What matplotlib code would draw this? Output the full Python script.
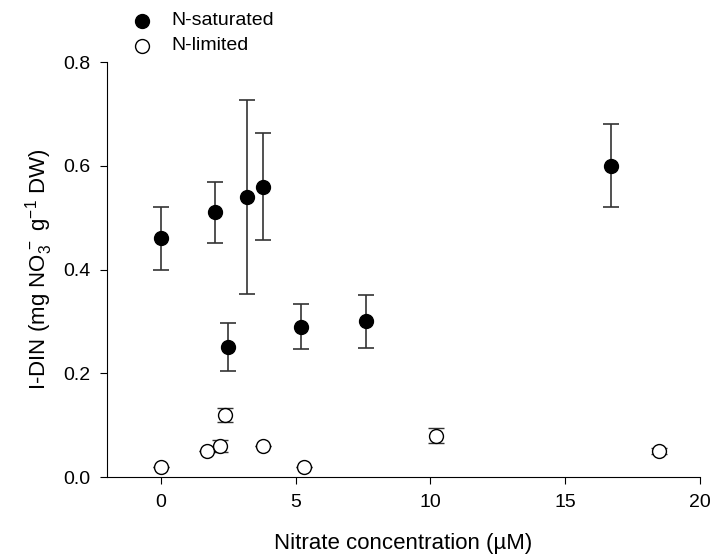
import matplotlib
matplotlib.use("Agg")
import matplotlib.pyplot as plt

plt.rcParams['font.family'] = ['Liberation Sans', 'DejaVu Sans']
plt.rcParams['mathtext.fontset'] = 'custom'
plt.rcParams['mathtext.rm'] = 'Liberation Sans'
plt.rcParams['mathtext.it'] = 'Liberation Sans:italic'

# N-saturated
sat_x = [0, 2.0, 2.5, 3.2, 3.8, 5.2, 7.6, 16.7]
sat_y = [0.46, 0.51, 0.25, 0.54, 0.56, 0.29, 0.30, 0.60]
sat_err = [0.06, 0.058, 0.046, 0.187, 0.103, 0.043, 0.051, 0.08]

# N-limited
lim_x = [0, 1.7, 2.2, 2.4, 3.8, 5.3, 10.2, 18.5]
lim_y = [0.02, 0.05, 0.06, 0.12, 0.06, 0.02, 0.08, 0.05]
lim_err = [0, 0, 0.012, 0.013, 0, 0, 0.015, 0.006]

fig = plt.figure(figsize=(7.12, 5.57), dpi=100)
ax = fig.add_axes([0.150, 0.1436, 0.833, 0.745])

ecol = '#333333'
ax.errorbar(sat_x, sat_y, yerr=sat_err, fmt='o', color='black', ms=10,
            ecolor=ecol, elinewidth=1.2, capsize=6, capthick=1.2, zorder=3)
ax.errorbar(lim_x, lim_y, yerr=lim_err, fmt='o', mfc='white', mec='black',
            mew=1.0, ms=10, ecolor=ecol, elinewidth=1.2, capsize=6,
            capthick=1.2, zorder=3)

ax.set_xlim(-2, 20)
ax.set_ylim(0, 0.8)
ax.set_xticks([0, 5, 10, 15, 20])
ax.set_yticks([0.0, 0.2, 0.4, 0.6, 0.8])
ax.set_yticklabels(['0.0', '0.2', '0.4', '0.6', '0.8'])
for s in ['top', 'right']:
    ax.spines[s].set_visible(False)
ax.tick_params(direction='out', length=5, labelsize=14, pad=7)

ax.set_xlabel('Nitrate concentration (µM)', fontsize=16, labelpad=16)
ax.set_ylabel('I-DIN (mg NO$_3^{\\,-}$ g$^{-1}$ DW)', fontsize=16, labelpad=6)

# legend above the axes
fig.lines.append(plt.Line2D([0.2], [0.963], marker='o', color='black', ms=10,
                            ls='none', transform=fig.transFigure, figure=fig))
fig.lines.append(plt.Line2D([0.2], [0.918], marker='o', mfc='white', mec='black',
                            ms=10, ls='none', transform=fig.transFigure, figure=fig))
fig.text(0.241, 0.963, 'N-saturated', fontsize=14, va='center')
fig.text(0.241, 0.918, 'N-limited', fontsize=14, va='center')

fig.savefig('out.png', dpi=100)
